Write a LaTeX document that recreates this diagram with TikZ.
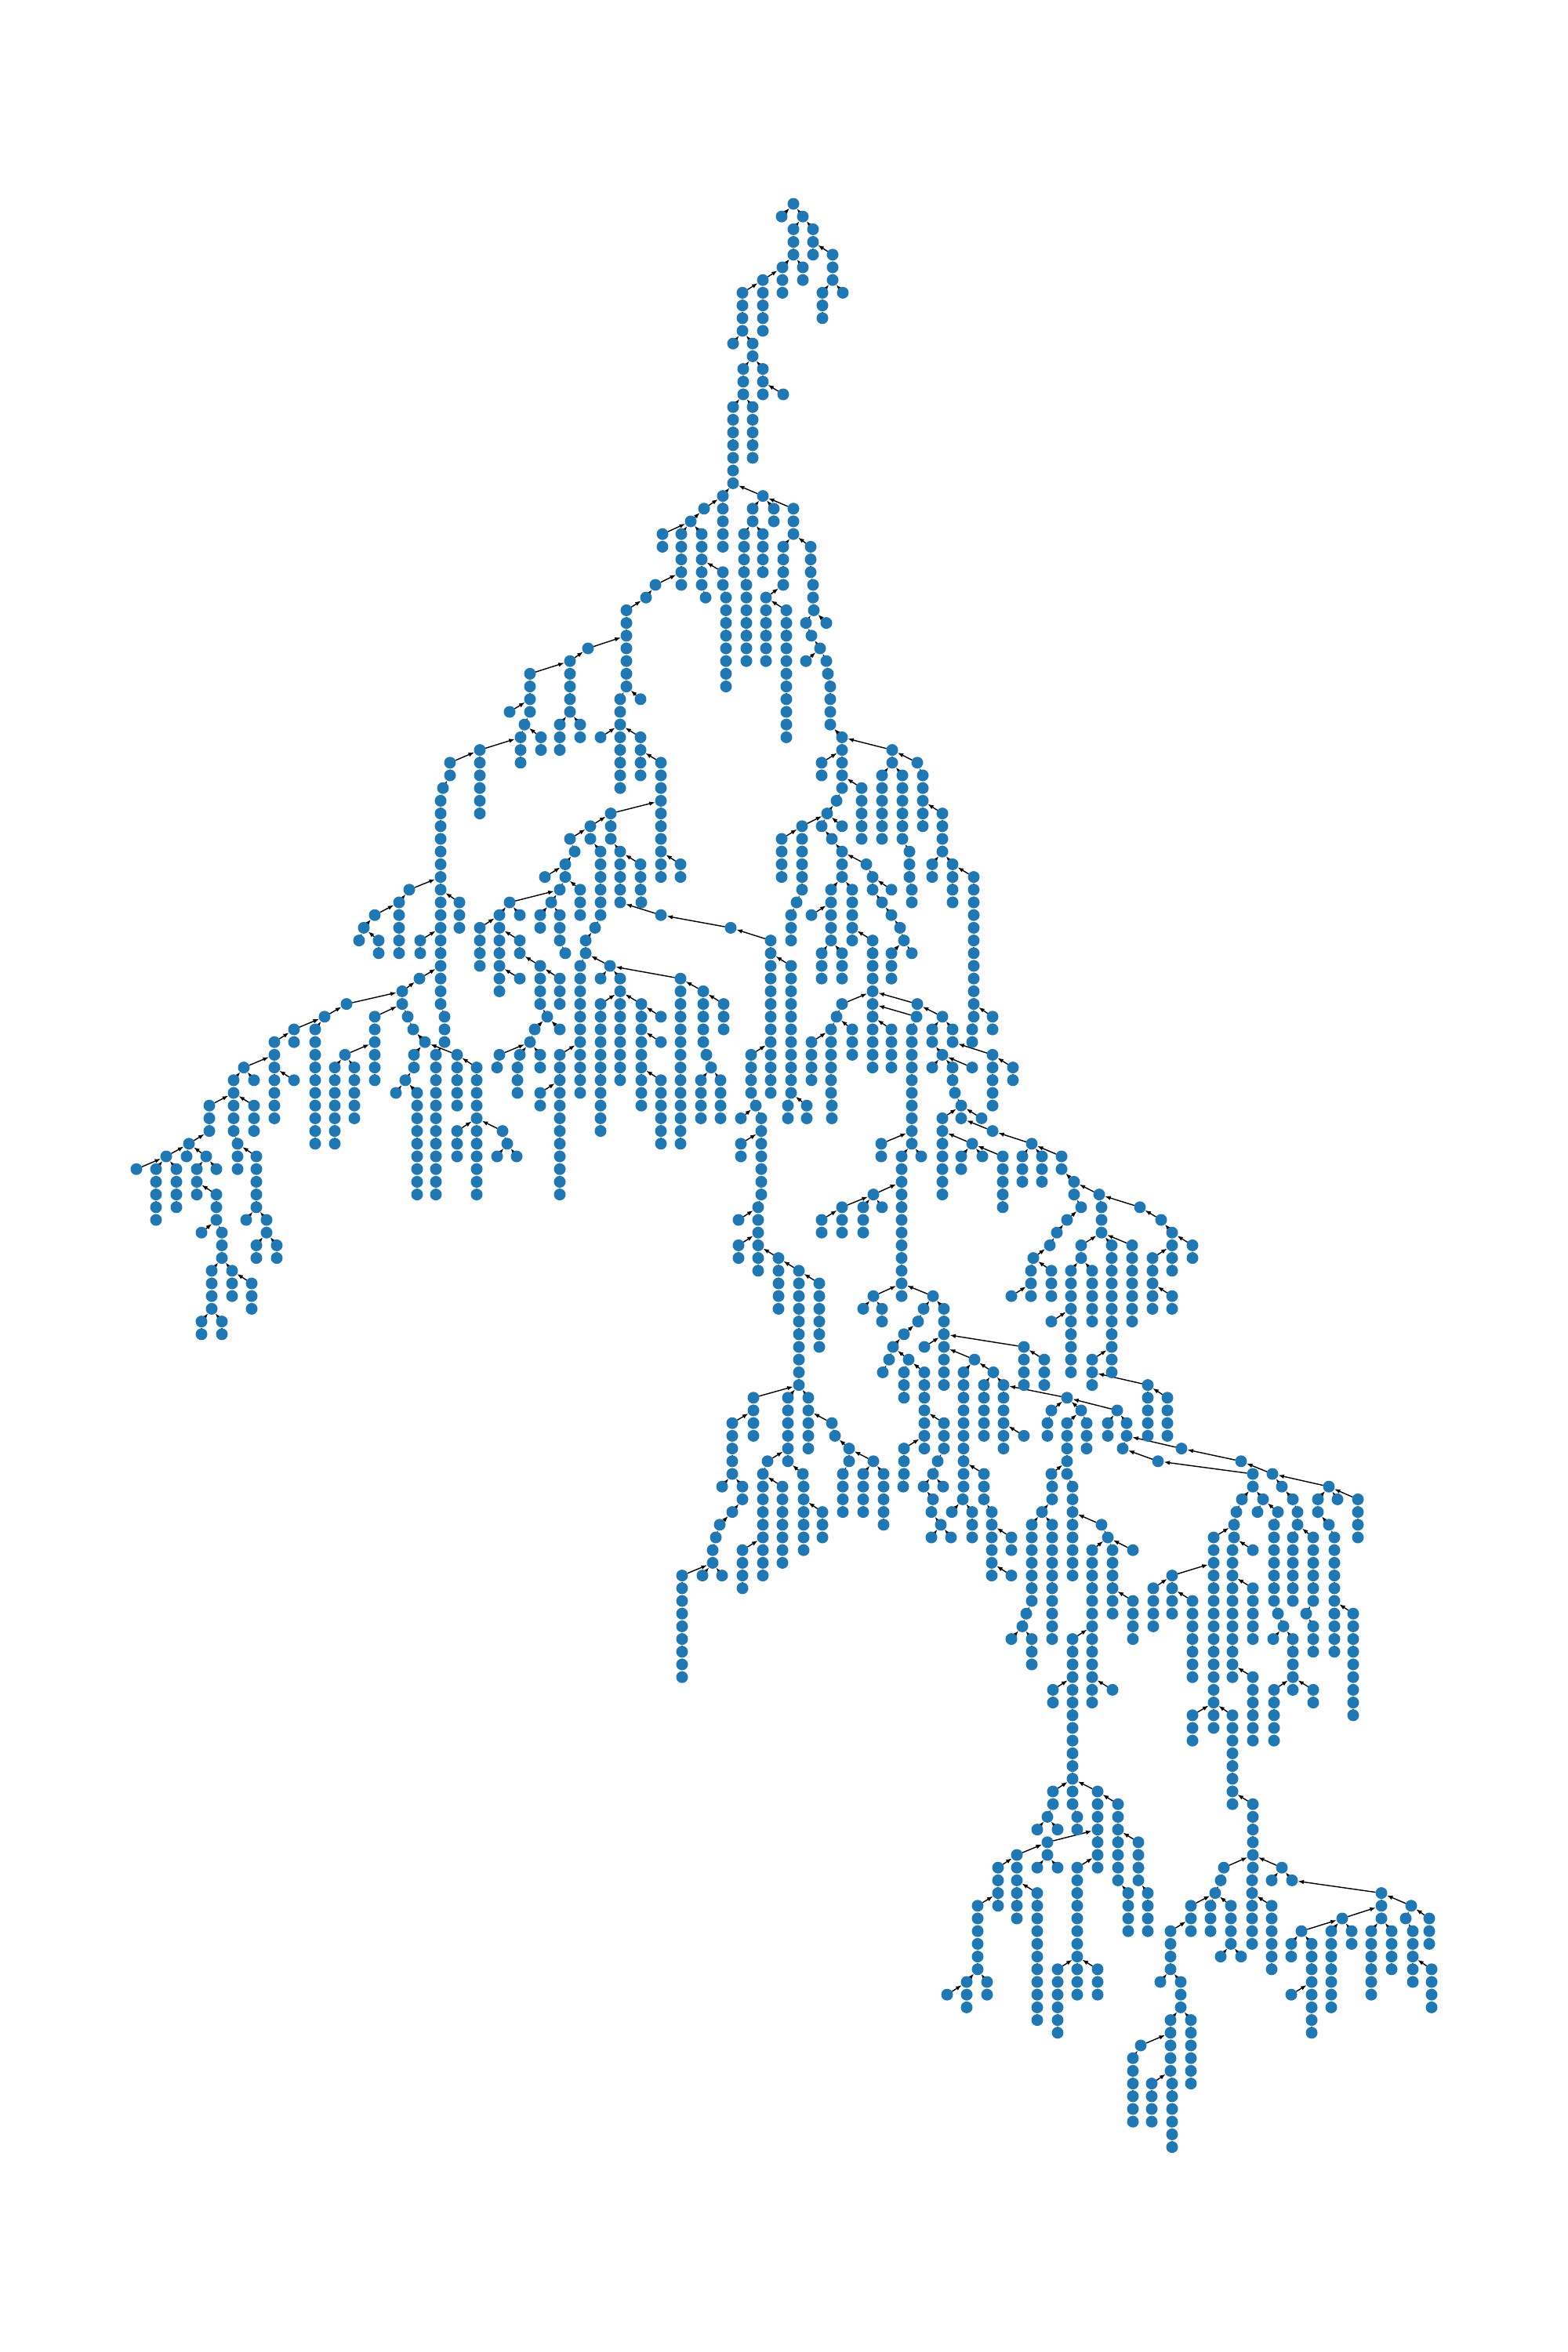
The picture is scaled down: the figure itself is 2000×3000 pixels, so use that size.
\documentclass[tikz,border=0pt]{standalone}
\usepackage{tikz}
\usetikzlibrary{arrows.meta}

\definecolor{mplblue}{HTML}{1F77B4}
\pgfdeclarelayer{edges}
\pgfsetlayers{edges,main}

% one level of the tree: level number, x positions
\newcommand{\treerow}[2]{\expandafter\def\csname treerow#1\endcsname{#2}}
% parent of a vertex when it is not the closest one on the level above
\newcommand{\treeparent}[3]{\expandafter\def\csname treepar#1-#2\endcsname{#3}}

\treerow{0}{1012}
\treerow{1}{997,1024}
\treerow{2}{1012,1037}
\treerow{3}{1012,1037}
\treerow{4}{1012,1037,1062}
\treerow{5}{998,1024,1062}
\treerow{6}{973,998,1024,1062}
\treerow{7}{947,973,998,1049,1075}
\treerow{8}{947,973,1049}
\treerow{9}{947,973,1049}
\treerow{10}{947,973}
\treerow{11}{935,960}
\treerow{12}{960}
\treerow{13}{948,973}
\treerow{14}{948,973}
\treerow{15}{948,973,999}
\treerow{16}{935,960}
\treerow{17}{935,960}
\treerow{18}{935,960}
\treerow{19}{935,960}
\treerow{20}{935,960}
\treerow{21}{935}
\treerow{22}{935}
\treerow{23}{922,973}
\treerow{24}{898,922,960,987,1012}
\treerow{25}{881,922,960,987,1012}
\treerow{26}{845,869,895,922,949,973,1012}
\treerow{27}{845,869,895,922,949,973,999,1034}
\treerow{28}{869,895,949,973,999,1034}
\treerow{29}{869,895,922,949,973,999,1034}
\treerow{30}{836,869,895,922,952,999,1037}
\treerow{31}{824,900,926,952,977,1037}
\treerow{32}{799,926,952,977,1003,1038}
\treerow{33}{799,926,952,977,1003,1028,1054}
\treerow{34}{799,926,952,977,1003,1035}
\treerow{35}{750,799,926,952,977,1003,1046}
\treerow{36}{727,799,926,952,977,1003,1028,1054}
\treerow{37}{676,727,799,926,1003,1056}
\treerow{38}{676,727,799,926,1003,1059}
\treerow{39}{676,727,791,817,1003,1059}
\treerow{40}{650,676,727,791,1003,1059}
\treerow{41}{669,714,740,791,1003,1059}
\treerow{42}{664,690,714,740,766,791,817,1003,1074}
\treerow{43}{612,664,690,714,791,817,1074,1138}
\treerow{44}{574,612,664,791,817,843,1048,1074,1138,1170}
\treerow{45}{574,612,791,817,843,1048,1074,1125,1151,1177}
\treerow{46}{565,612,791,843,1074,1099,1125,1151,1177}
\treerow{47}{562,612,843,1067,1099,1125,1151,1177}
\treerow{48}{562,612,779,843,1055,1099,1125,1151,1177,1202}
\treerow{49}{562,753,779,843,1023,1048,1074,1099,1125,1151,1177,1202}
\treerow{50}{562,727,753,779,843,997,1023,1061,1099,1125,1151,1202}
\treerow{51}{562,733,766,791,843,997,1023,1074,1160,1202}
\treerow{52}{562,721,766,791,817,843,868,997,1023,1074,1105,1160,1189,1215}
\treerow{53}{562,695,721,766,791,817,843,868,997,1023,1074,1113,1160,1189,1215,1242}
\treerow{54}{522,562,714,740,766,791,817,1023,1060,1087,1113,1137,1163,1215,1242}
\treerow{55}{509,562,586,650,703,740,766,791,818,1016,1060,1087,1125,1163,1215,1242}
\treerow{56}{478,509,562,586,637,663,689,714,740,766,843,1009,1035,1060,1087,1137,1242}
\treerow{57}{464,509,562,586,612,637,689,714,759,932,1009,1060,1087,1148,1242}
\treerow{58}{458,483,509,536,562,612,637,663,714,747,983,1009,1060,1087,1113,1153,1242}
\treerow{59}{483,509,536,562,612,637,663,721,747,983,1048,1074,1113,1137,1163,1242}
\treerow{60}{562,612,637,689,740,778,983,1009,1048,1074,1113,1137,1242}
\treerow{61}{535,562,637,663,689,714,740,766,791,868,983,1009,1048,1074,1113,1137,1242}
\treerow{62}{513,562,637,689,714,740,791,868,897,983,1009,1113,1242}
\treerow{63}{442,513,562,689,714,740,766,791,818,868,897,923,983,1009,1074,1113,1170,1242}
\treerow{64}{414,478,520,567,698,740,766,791,818,843,868,897,923,983,1009,1067,1113,1169,1202,1242,1266}
\treerow{65}{375,402,478,527,567,682,714,740,766,791,818,868,897,923,983,1009,1060,1087,1113,1137,1163,1189,1215,1240,1266}
\treerow{66}{350,375,402,478,542,567,676,740,766,791,818,843,868,897,983,1009,1035,1060,1087,1113,1137,1163,1189,1215,1240}
\treerow{67}{350,402,440,478,528,556,583,637,663,689,714,740,766,791,818,868,901,958,983,1009,1035,1060,1087,1113,1137,1163,1202,1266}
\treerow{68}{311,350,402,427,452,478,528,556,583,608,634,660,689,714,740,766,791,818,868,907,958,983,1009,1035,1060,1113,1137,1163,1189,1215,1240,1266,1292}
\treerow{69}{298,324,350,375,402,427,452,478,517,556,583,608,660,714,740,766,791,818,843,868,894,919,958,983,1009,1035,1060,1163,1215,1266,1292}
\treerow{70}{298,350,402,427,452,505,532,556,583,608,660,689,714,740,766,818,843,868,894,919,958,983,1009,1060,1163,1218,1266}
\treerow{71}{267,298,324,350,402,427,452,532,556,583,608,689,714,766,818,843,868,894,919,964,1005,1029,1061,1163,1226,1266}
\treerow{72}{267,298,324,350,402,427,452,532,556,608,714,766,843,868,894,919,945,971,1005,1029,1061,1163,1202,1226,1252}
\treerow{73}{267,298,324,402,427,532,556,583,608,641,714,766,843,868,971,1163,1202,1266}
\treerow{74}{241,303,402,427,532,556,583,608,647,714,843,868,945,971,1124,1163,1202,1240,1316}
\treerow{75}{212,238,263,303,327,532,556,583,608,634,659,714,945,971,1124,1150,1175,1202,1226,1253,1279,1304,1329,1354}
\treerow{76}{174,199,225,251,276,303,327,532,556,608,714,971,1150,1202,1226,1279,1304,1329,1354}
\treerow{77}{199,225,251,327,532,556,608,714,971,1150,1202,1279,1304,1329,1370}
\treerow{78}{199,225,251,276,327,532,556,608,714,971,1114,1150,1202,1279,1370,1402}
\treerow{79}{199,225,276,327,967,1074,1101,1125,1150,1279,1379,1405,1454}
\treerow{80}{199,276,314,340,942,967,1048,1074,1101,1150,1361,1405,1481}
\treerow{81}{257,283,340,967,1048,1074,1101,1150,1348,1405,1495}
\treerow{82}{283,327,353,942,967,1150,1339,1379,1418,1444,1495,1521}
\treerow{83}{283,327,353,942,967,993,1150,1318,1379,1418,1444,1470,1495,1521}
\treerow{84}{270,296,967,993,1019,1150,1315,1341,1366,1393,1418,1444,1470,1495}
\treerow{85}{270,296,321,993,1019,1045,1150,1315,1341,1366,1393,1418,1444,1470}
\treerow{86}{270,296,321,993,1019,1045,1114,1150,1190,1290,1315,1341,1366,1393,1418,1444,1470,1495}
\treerow{87}{270,321,993,1019,1045,1101,1125,1178,1204,1366,1393,1418,1444,1470,1495}
\treerow{88}{257,283,1019,1045,1125,1171,1204,1341,1366,1393,1418,1444}
\treerow{89}{257,283,1019,1045,1153,1204,1366,1418}
\treerow{90}{1019,1045,1139,1179,1204,1306,1366,1418}
\treerow{91}{1019,1134,1159,1204,1243,1306,1332,1366,1393,1418}
\treerow{92}{1019,1126,1153,1179,1204,1229,1267,1306,1332,1366,1393,1418}
\treerow{93}{1019,1153,1179,1204,1229,1255,1280,1306,1332,1393,1464}
\treerow{94}{961,1005,1031,1153,1179,1229,1255,1280,1361,1464,1489}
\treerow{95}{961,1005,1031,1179,1229,1255,1280,1341,1379,1425,1464,1489}
\treerow{96}{934,961,1005,1031,1061,1179,1204,1229,1255,1280,1336,1361,1386,1413,1437,1464,1489}
\treerow{97}{934,961,1005,1031,1065,1179,1204,1229,1255,1280,1306,1336,1361,1386,1413,1437,1464,1489}
\treerow{98}{934,1005,1031,1083,1153,1179,1204,1229,1280,1361,1386,1432,1507}
\treerow{99}{934,979,1005,1083,1114,1153,1196,1229,1361,1477,1583}
\treerow{100}{934,973,1024,1075,1101,1127,1153,1190,1229,1255,1341,1361,1598,1623}
\treerow{101}{921,947,973,998,1025,1075,1101,1127,1152,1178,1203,1229,1255,1342,1368,1598,1635,1695}
\treerow{102}{947,973,998,1025,1075,1101,1127,1190,1228,1255,1342,1368,1584,1611,1649,1681,1706,1732}
\treerow{103}{934,973,998,1025,1049,1075,1101,1127,1188,1214,1240,1265,1329,1368,1577,1604,1630,1655,1681,1732}
\treerow{104}{918,973,998,1025,1049,1127,1200,1240,1265,1316,1342,1368,1405,1574,1625,1655,1695,1732}
\treerow{105}{913,973,998,1025,1049,1188,1213,1240,1265,1290,1316,1342,1368,1413,1548,1574,1625,1649,1675,1702,1732}
\treerow{106}{909,947,973,998,1025,1265,1290,1316,1342,1368,1393,1419,1445,1548,1572,1598,1625,1649,1675,1702}
\treerow{107}{909,947,973,998,1265,1316,1342,1368,1393,1419,1548,1572,1625,1649,1675,1702}
\treerow{108}{870,896,921,947,973,1265,1290,1316,1342,1368,1393,1419,1495,1548,1572,1625,1649,1675,1702}
\treerow{109}{870,947,1316,1342,1393,1419,1471,1495,1548,1572,1598,1625,1649,1675,1702}
\treerow{110}{870,1316,1342,1393,1419,1445,1471,1495,1521,1548,1572,1598,1625,1649,1675,1702}
\treerow{111}{870,1309,1342,1393,1419,1445,1471,1495,1521,1548,1572,1598,1630,1666,1702,1726}
\treerow{112}{870,1304,1342,1393,1445,1471,1521,1548,1572,1598,1637,1675,1702,1726}
\treerow{113}{870,1290,1316,1342,1368,1393,1445,1521,1548,1572,1598,1624,1649,1675,1702,1726}
\treerow{114}{870,1316,1368,1393,1521,1548,1572,1649,1675,1702,1726}
\treerow{115}{870,1316,1368,1393,1521,1548,1572,1649,1726}
\treerow{116}{870,1368,1393,1521,1548,1572,1598,1649,1726}
\treerow{117}{1343,1368,1393,1419,1548,1598,1625,1649,1675,1726}
\treerow{118}{1343,1368,1393,1548,1598,1625,1675,1726}
\treerow{119}{1368,1521,1548,1572,1598,1625,1726}
\treerow{120}{1368,1521,1548,1572,1598,1625}
\treerow{121}{1368,1521,1572,1598,1625}
\treerow{122}{1368,1572}
\treerow{123}{1368,1572}
\treerow{124}{1368,1572}
\treerow{125}{1343,1368,1400,1572}
\treerow{126}{1343,1368,1400,1426,1572,1598}
\treerow{127}{1336,1374,1400,1426,1598}
\treerow{128}{1323,1349,1374,1400,1426,1598}
\treerow{129}{1336,1400,1426,1452,1598}
\treerow{130}{1297,1336,1400,1426,1452,1598}
\treerow{131}{1273,1297,1323,1349,1374,1400,1426,1452,1561,1598,1635}
\treerow{132}{1273,1297,1374,1426,1452,1557,1597,1622,1648}
\treerow{133}{1273,1297,1323,1374,1439,1464,1550,1597,1762}
\treerow{134}{1247,1273,1297,1323,1374,1439,1464,1519,1544,1570,1597,1622,1762,1800}
\treerow{135}{1247,1297,1323,1374,1439,1464,1519,1544,1570,1597,1622,1712,1762,1793,1823}
\treerow{136}{1247,1323,1374,1439,1464,1493,1519,1544,1570,1597,1622,1660,1698,1724,1749,1775,1802,1823}
\treerow{137}{1247,1323,1374,1493,1570,1597,1622,1647,1673,1698,1724,1749,1775,1802,1823}
\treerow{138}{1247,1323,1374,1493,1557,1583,1622,1647,1673,1698,1749,1775,1802}
\treerow{139}{1247,1323,1349,1374,1400,1493,1622,1673,1698,1749,1775,1802,1826}
\treerow{140}{1233,1259,1323,1349,1374,1400,1480,1506,1673,1698,1749,1802,1826}
\treerow{141}{1208,1233,1259,1323,1349,1374,1400,1506,1647,1673,1698,1749,1826}
\treerow{142}{1233,1323,1349,1506,1673,1698,1826}
\treerow{143}{1323,1349,1493,1519,1673}
\treerow{144}{1349,1493,1519,1673}
\treerow{145}{1455,1493,1519}
\treerow{146}{1445,1493,1519}
\treerow{147}{1445,1493,1519}
\treerow{148}{1445,1469,1495,1519}
\treerow{149}{1445,1469,1495}
\treerow{150}{1445,1469,1495}
\treerow{151}{1445,1469,1495}
\treerow{152}{1495}
\treerow{153}{1495}

% long links
\treeparent{50}{1061}{1048}
\treeparent{54}{1137}{1113}
\treeparent{55}{1125}{1113}
\treeparent{56}{843}{791}
\treeparent{56}{1035}{1060}
\treeparent{57}{932}{843}
\treeparent{58}{983}{932}
\treeparent{59}{1074}{1060}
\treeparent{61}{868}{778}
\treeparent{64}{1169}{1113}
\treeparent{67}{440}{478}
\treeparent{67}{583}{542}
\treeparent{67}{1266}{1215}
\treeparent{68}{1240}{1202}
\treeparent{72}{1252}{1226}
\treeparent{73}{1266}{1226}
\treeparent{74}{1240}{1202}
\treeparent{75}{1279}{1240}
\treeparent{90}{1306}{1204}
\treeparent{93}{1464}{1393}
\treeparent{94}{1361}{1280}
\treeparent{95}{1425}{1361}
\treeparent{98}{1507}{1437}
\treeparent{99}{1477}{1432}
\treeparent{100}{1598}{1477}
\treeparent{129}{1336}{1400}
\treeparent{136}{1660}{1712}
\treeparent{148}{1469}{1493}

\begin{document}
\begin{tikzpicture}[
  x=0.05mm, y=-0.05mm,
  vertex/.style = {circle, fill=mplblue, draw=none, minimum size=0.75mm, inner sep=0pt, outer sep=0pt},
  arrow/.style = {black, line width=0.2pt, -{Latex[length=0.38mm, width=0.28mm]}}
]
\useasboundingbox (0,0) rectangle (2000,3000);

% Vertices, one level at a time
\foreach \lv in {0,...,153} {
  \edef\cur{\csname treerow\lv\endcsname}
  \foreach \x in \cur {
    \node[vertex] (v\x-\lv) at (\x, {260+16.2*\lv}) {};
  }
}

% Child -> parent arrows
\begin{pgfonlayer}{edges}
\foreach \lv in {1,...,153} {
  \pgfmathtruncatemacro\uplv{\lv-1}
  \edef\cur{\csname treerow\lv\endcsname}
  \edef\prev{\csname treerow\uplv\endcsname}
  \foreach \x in \cur {
    \ifcsname treepar\lv-\x\endcsname
      \xdef\best{\csname treepar\lv-\x\endcsname}
    \else
      \gdef\best{}\gdef\bestd{100000}
      \foreach \y in \prev {
        \edef\dist{\the\numexpr\x-\y\relax}
        \ifnum\dist<0 \edef\dist{\the\numexpr-\dist\relax}\fi
        \ifnum\dist<\bestd\relax \xdef\best{\y}\xdef\bestd{\dist}\fi
      }
    \fi
    \draw[arrow] (v\x-\lv) -- (v\best-\uplv);
  }
}
\end{pgfonlayer}
\end{tikzpicture}
\end{document}
